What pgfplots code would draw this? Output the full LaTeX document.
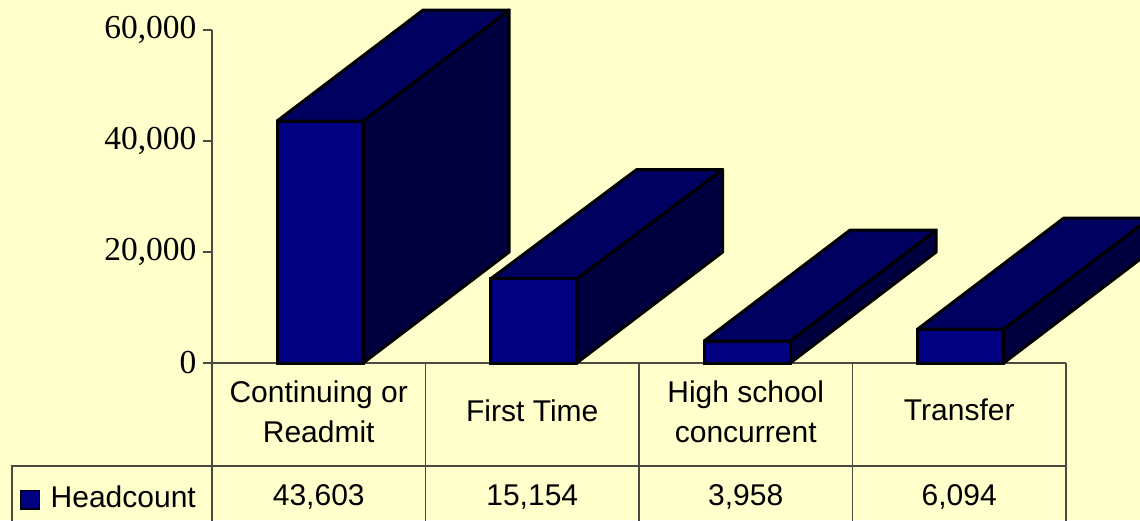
\documentclass[border=0pt]{standalone}
\usepackage{fontspec}
\setmainfont{Liberation Serif}
\newfontfamily\tablefont{Liberation Sans}
\usepackage{pgfplots}
\usepackage{pgfplotstable}
\pgfplotsset{compat=1.18}
\definecolor{paper}{HTML}{FFFFCC}
\definecolor{barfront}{HTML}{000080}
\definecolor{bartop}{HTML}{000060}
\definecolor{barside}{HTML}{000040}
\definecolor{gridc}{HTML}{4A4A40}

% front faces: x = centre of each bar
\pgfplotstableread{
x      y
0.5065 43603
1.5065 15154
2.5065 3958
3.5065 6094
}\headcount

\newcommand{\tabtext}[3]{\node[font=\fontsize{30}{40.5}\selectfont\tablefont, align=center, text=black] at (#1,#2) {#3};}

\begin{document}
\begin{tikzpicture}[x=1pt,y=1pt]
\useasboundingbox (-212,-157) rectangle (928,363);
\clip (-212,-157) rectangle (928,363);
\fill[paper] (-212,-157) rectangle (928,363);

% data table grid
\begin{scope}[gridc, line width=1.2pt]
\draw (0,0) -- (0,-160);
\draw (213.5,0) -- (213.5,-160);
\draw (427,0) -- (427,-160);
\draw (640.5,0) -- (640.5,-160);
\draw (854,0) -- (854,-160);
\draw (-200,-160) -- (-200,-103) -- (854,-103);
\end{scope}

\begin{axis}[
  at={(0,0)}, anchor=origin,
  scale only axis,
  width=854pt, height=333pt,
  xmin=0, xmax=4, ymin=0, ymax=60000,
  clip=false,
  axis x line=bottom, axis y line=left,
  axis line style={-, gridc, line width=1.2pt},
  xtick=\empty,
  ytick={0,20000,40000,60000},
  scaled y ticks=false,
  tick align=outside,
  major tick length=9pt,
  tick style={gridc, line width=1.2pt},
  y tick label style={font=\fontsize{33.5}{36}\selectfont, text=black, xshift=-3pt},
  /pgf/number format/1000 sep={,},
  /pgf/number format/assume math mode=true,
]
% side faces
\addplot[fill=barside, draw=black, line width=3pt, line join=round] coordinates {
  (0.708,0) (1.392,20000) (1.392,63603) (0.708,43603) (0.708,0)};
\addplot[fill=barside, draw=black, line width=3pt, line join=round] coordinates {
  (1.708,0) (2.392,20000) (2.392,34850) (1.708,15154) (1.708,0)};
\addplot[fill=barside, draw=black, line width=3pt, line join=round] coordinates {
  (2.708,0) (3.392,20000) (3.392,23958) (2.708,3958) (2.708,0)};
\addplot[fill=barside, draw=black, line width=3pt, line join=round] coordinates {
  (3.708,0) (4.392,20000) (4.392,26094) (3.708,6094) (3.708,0)};
% top faces
\addplot[fill=bartop, draw=black, line width=3pt, line join=round] coordinates {
  (0.305,43603) (0.989,63603) (1.392,63603) (0.708,43603) (0.305,43603)};
\addplot[fill=bartop, draw=black, line width=3pt, line join=round] coordinates {
  (1.305,15154) (1.989,34850) (2.392,34850) (1.708,15154) (1.305,15154)};
\addplot[fill=bartop, draw=black, line width=3pt, line join=round] coordinates {
  (2.305,3958) (2.989,23958) (3.392,23958) (2.708,3958) (2.305,3958)};
\addplot[fill=bartop, draw=black, line width=3pt, line join=round] coordinates {
  (3.305,6094) (3.989,26094) (4.392,26094) (3.708,6094) (3.305,6094)};
% front faces
\addplot[ybar, bar width=86pt, fill=barfront, draw=black, line width=3pt] table[x=x,y=y] {\headcount};
\end{axis}

% category names and values under the axis
\tabtext{106.75}{-49}{Continuing or\\Readmit}
\tabtext{320.25}{-48}{First Time}
\tabtext{533.75}{-49}{High school\\concurrent}
\tabtext{747.25}{-47}{Transfer}
\tabtext{106.75}{-134}{43,603}
\tabtext{320.25}{-134}{15,154}
\tabtext{533.75}{-134}{3,958}
\tabtext{747.25}{-134}{6,094}
\node[anchor=west, font=\fontsize{30}{40}\selectfont\tablefont, text=black, inner sep=0pt] at (-161.5,-134) {Headcount};
\draw[black, line width=1.5pt, fill=barfront] (-191.5,-146) rectangle (-172.5,-127.5);
\end{tikzpicture}
\end{document}
